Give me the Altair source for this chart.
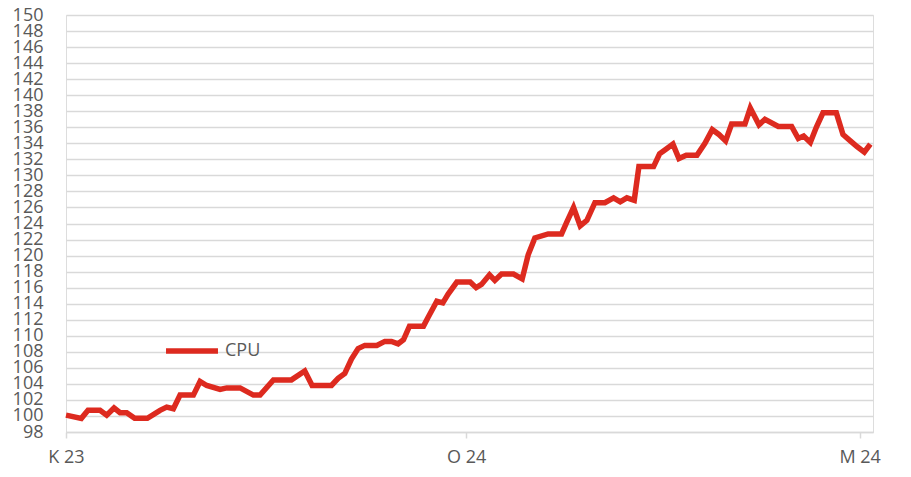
import altair as alt
import pandas as pd

# week index (time position) and CPU value
weeks = [0, 2.3, 3.3, 5.1, 6.1, 7.2, 8.1, 9.1, 10.3, 12.2, 14.1, 15.1, 16.1, 17.1, 19.1, 20.1,
         21.1, 23.1, 24.1, 26.1, 28.1, 29.1, 31.1, 33.8, 35.8, 36.9, 39.8, 40.8, 41.8, 42.8,
         43.8, 44.8, 46.6, 47.8, 48.8, 49.8, 50.6, 51.5, 53.6, 54.3, 55.6, 56.5, 57.3, 58.6,
         60.6, 61.5, 62.3, 63.5, 64.3, 65.3, 67.1, 68.4, 69.3, 70.3, 72.3, 74.3, 75.1, 76.1,
         77.1, 78.1, 79.3, 80.8, 82.1, 83.1, 84.1, 85.2, 85.9, 88.1, 89.0, 90.0, 91.0, 91.9,
         93.0, 94.6, 95.8, 96.9, 97.9, 98.9, 99.8, 101.8, 102.6, 103.9, 104.8, 106.8, 108.8,
         109.8, 110.6, 111.6, 112.5, 113.5, 115.5, 116.5, 117.6, 118.6, 119.7, 120.6]
cpu = [100.1, 99.7, 100.7, 100.7, 100.1, 101.0, 100.4, 100.4, 99.7, 99.7, 100.7, 101.1, 100.9,
       102.6, 102.6, 104.3, 103.8, 103.3, 103.5, 103.5, 102.6, 102.6, 104.5, 104.5, 105.6,
       103.8, 103.8, 104.7, 105.3, 107.1, 108.4, 108.8, 108.8, 109.3, 109.3, 109.0, 109.5,
       111.2, 111.2, 112.3, 114.3, 114.1, 115.2, 116.7, 116.7, 116.0, 116.4, 117.6, 116.9,
       117.7, 117.7, 117.1, 120.1, 122.2, 122.7, 122.7, 124.2, 126.0, 123.7, 124.4, 126.6,
       126.6, 127.2, 126.7, 127.2, 126.9, 131.1, 131.1, 132.7, 133.3, 133.9, 132.1, 132.5,
       132.5, 134.0, 135.7, 135.1, 134.3, 136.4, 136.4, 138.4, 136.3, 137.0, 136.1, 136.1,
       134.6, 134.9, 134.1, 136.0, 137.8, 137.8, 135.1, 134.3, 133.6, 132.9, 133.9]

tick_weeks = [0, 60, 119]
tick_labels = ["K 23", "O 24", "M 24"]
y_ticks = list(range(98, 151, 2))

df = pd.DataFrame({"week": weeks, "value": cpu, "series": ["CPU"] * len(weeks)})

label_expr = " : ".join(
    f"datum.value == {w} ? '{l}'" for w, l in zip(tick_weeks, tick_labels)
) + " : ''"

FONT = "Open Sans"
GRAY = "#595959"
RED = "#DD2A1F"

chart = (
    alt.Chart(df)
    .mark_line(strokeWidth=5.5, strokeJoin="miter", strokeCap="butt")
    .encode(
        x=alt.X(
            "week:Q",
            scale=alt.Scale(domain=[0, 121], nice=False, zero=False),
            axis=alt.Axis(
                values=tick_weeks,
                labelExpr=label_expr,
                title=None,
                grid=False,
                domain=True,
                domainColor="#d9d9d9",
                domainWidth=1.5,
                ticks=True,
                tickColor="#d9d9d9",
                tickSize=6,
                tickWidth=1.5,
                labelPadding=10,
                labelFont=FONT,
                labelFontSize=18,
                labelColor=GRAY,
                labelFlush=False,
                labelOverlap=False,
            ),
        ),
        y=alt.Y(
            "value:Q",
            scale=alt.Scale(domain=[98, 150], nice=False, zero=False),
            axis=alt.Axis(
                values=y_ticks,
                title=None,
                grid=True,
                gridColor="#d9d9d9",
                gridWidth=1.5,
                domain=False,
                ticks=False,
                labelPadding=23,
                labelFont=FONT,
                labelFontSize=18,
                labelColor=GRAY,
                labelOverlap=False,
                labelBound=False,
                labelFlush=False,
            ),
        ),
        color=alt.Color(
            "series:N",
            scale=alt.Scale(domain=["CPU"], range=[RED]),
            legend=alt.Legend(
                title=None,
                orient="none",
                legendX=97,
                legendY=307,
                symbolType="stroke",
                symbolSize=2700,
                symbolStrokeWidth=5.5,
                labelFont=FONT,
                labelFontSize=18,
                labelColor=GRAY,
                labelOffset=4,
                padding=0,
            ),
        ),
    )
    .properties(
        width=807,
        height=417,
        autosize=alt.AutoSizeParams(type="none"),
        padding={"left": 58, "top": 7, "right": 30, "bottom": 37},
    )
    .configure_view(stroke=None)
    .configure(background="white")
)

chart.save("out.html", embed_options={"renderer": "svg", "actions": False})
